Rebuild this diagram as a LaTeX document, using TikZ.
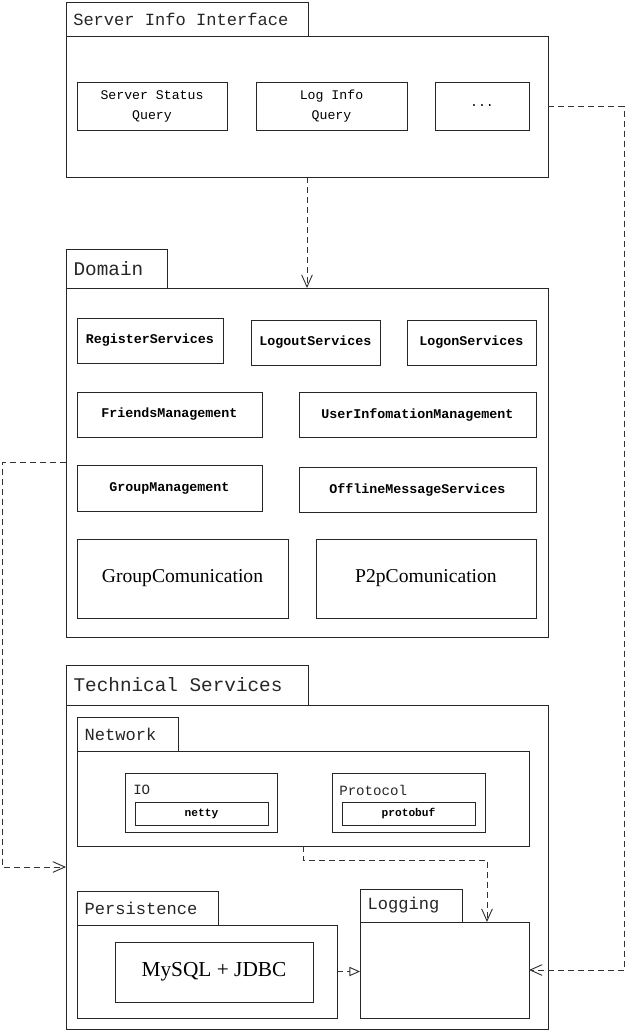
\documentclass[tikz,border=0pt]{standalone}
\usepackage{fontspec}
\setmainfont{Liberation Mono}
\newfontfamily\serifface{Liberation Serif}
\usetikzlibrary{arrows.meta}

% Box from its top-left to bottom-right corner (pixel-like units)
\newcommand\pbox[7][]{%
  \node[box,anchor=north west,
        minimum width={(#5-#3)*0.75pt},
        minimum height={(#6-#4)*0.75pt},#1] (#2) at (#3,#4) {#7};}

\tikzset{
  box/.style={draw=black!85, line width=0.65pt, inner sep=0pt, outer sep=0pt,
              align=center, text=black},
  tablabel/.style={anchor=west, inner sep=0pt, text=black!85},
  bigtab/.style={font=\fontsize{14.5}{16}\selectfont},
  midtab/.style={font=\fontsize{12.8}{14}\selectfont},
  plain/.style={font=\fontsize{9.9}{15}\selectfont},
  heavy/.style={font=\fontsize{10}{12}\selectfont\bfseries},
  large/.style={font=\fontsize{14.7}{16}\selectfont\serifface},
  tiny/.style={font=\fontsize{8.4}{10}\selectfont\bfseries},
  dep/.style={draw=black!80, line width=0.7pt, dash pattern=on 4.5pt off 3pt,
              -{Straight Barb[length=9pt,width=8pt]}},
  realize/.style={draw=black!80, line width=0.7pt, dash pattern=on 4.5pt off 3pt,
              -{Triangle[open,length=8pt,width=7pt]}},
}

\begin{document}
\begin{tikzpicture}[x=0.75pt,y=-0.75pt]
\useasboundingbox (0,0) rectangle (625,1031);

% ---------- Server Info Interface ----------
\pbox{siiTab}{66}{2}{308}{36}{}
\pbox{sii}{66}{36}{548}{177}{}
\node[tablabel,midtab] (siiL) at ([xshift=5.25pt]siiTab.west) {Server Info Interface};
\pbox[plain]{status}{77}{82}{227}{130}{Server Status\\Query}
\pbox[plain]{loginfo}{256}{82}{407}{130}{Log Info\\Query}
\pbox[plain]{dots}{435}{82}{529}{130}{...}

% ---------- Domain ----------
\pbox{domTab}{66}{249}{167}{288}{}
\pbox{dom}{66}{288}{548}{637}{}
\node[tablabel,bigtab] (domL) at ([xshift=5.5pt]domTab.west) {Domain};
\pbox[heavy]{register}{77}{318}{223}{363}{RegisterServices}
\pbox[heavy]{logout}{251}{320}{380}{365}{LogoutServices}
\pbox[heavy]{logon}{407}{320}{536}{365}{LogonServices}
\pbox[heavy]{friends}{77}{392}{262}{437}{FriendsManagement}
\pbox[heavy]{userinfo}{299}{392}{536}{437}{UserInfomationManagement}
\pbox[heavy]{group}{77}{465}{262}{511}{GroupManagement}
\pbox[heavy]{offline}{299}{467}{536}{512}{OfflineMessageServices}
\pbox[large]{groupcom}{77}{539}{288}{618}{GroupComunication}
\pbox[large]{p2p}{316}{539}{536}{618}{P2pComunication}

% ---------- Technical Services ----------
\pbox{techTab}{66}{665}{308}{705}{}
\pbox{tech}{66}{705}{548}{1029}{}
\node[tablabel,bigtab] (techL) at ([xshift=5.5pt]techTab.west) {Technical Services};

% Network
\pbox{netTab}{77}{717}{178}{751}{}
\pbox{net}{77}{751}{529}{846}{}
\node[tablabel,midtab] (netL) at ([xshift=5.5pt]netTab.west) {Network};
\pbox{io}{125}{773}{277}{832}{}
\node[anchor=west,inner sep=0pt,font=\fontsize{10.6}{12}\selectfont,text=black!85] (ioL) at (133,790) {IO};
\pbox[tiny]{netty}{135}{802}{268}{825}{netty}
\pbox{proto}{332}{773}{485}{832}{}
\node[anchor=west,inner sep=0pt,font=\fontsize{10.6}{12}\selectfont,text=black!85] (protoL) at (339,790) {Protocol};
\pbox[tiny]{protobuf}{342}{802}{475}{825}{protobuf}

% Persistence
\pbox{persTab}{77}{891}{218}{925}{}
\pbox{pers}{77}{925}{337}{1018}{}
\node[tablabel,midtab] (persL) at ([xshift=5.5pt]persTab.west) {Persistence};
\pbox[font=\fontsize{16}{18}\selectfont\serifface]{mysql}{115}{942}{313}{1002}{MySQL + JDBC}

% Logging
\pbox{logTab}{360}{889}{462}{922}{}
\pbox{logm}{360}{922}{529}{1018}{}
\node[tablabel,midtab] (logL) at ([xshift=5.5pt]logTab.west) {Logging};

% ---------- Dependencies ----------
\coordinate (leftrail) at (2,0);
\coordinate (rightrail) at (624,0);
\coordinate (netdrop) at (0,860);

\draw[dep] (sii.south) -- (dom.north);
\draw[dep] (net.south) -- (net.south |- netdrop) -| ([xshift=95.25pt]logm.north west);
\draw[realize] (pers.east) -- (pers.east -| logm.west);
\draw[dep] (sii.east) -- (sii.east -| rightrail) |- (logm.east);
\draw[dep] (dom.west) -- (dom.west -| leftrail) |- (tech.west);
\end{tikzpicture}
\end{document}
